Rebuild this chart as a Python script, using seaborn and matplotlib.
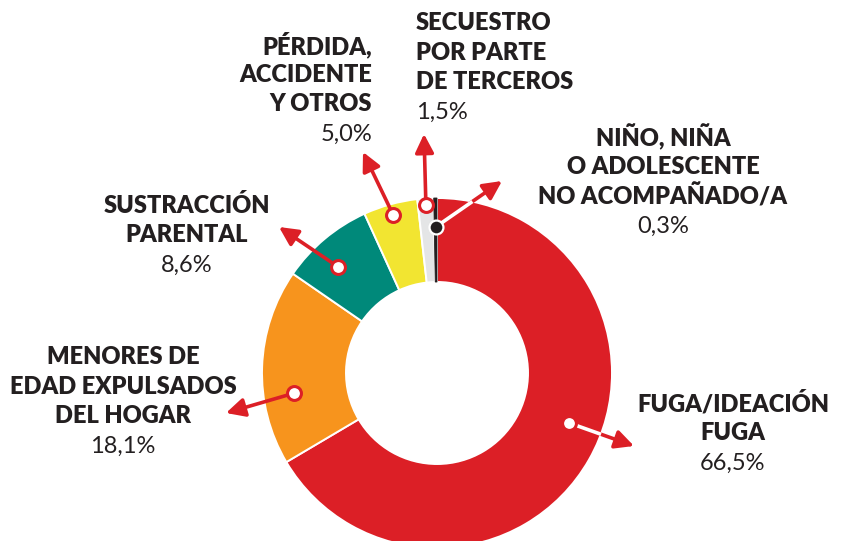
"""
Donut chart: motivos de desaparición
"""

import numpy as np
import matplotlib
matplotlib.use("Agg")
import matplotlib.pyplot as plt
import seaborn as sns

# data
categories = ["FUGA/IDEACIÓN\nFUGA", "MENORES DE\nEDAD EXPULSADOS\nDEL HOGAR",
              "SUSTRACCIÓN\nPARENTAL", "PÉRDIDA,\nACCIDENTE\nY OTROS",
              "SECUESTRO\nPOR PARTE\nDE TERCEROS",
              "NIÑO, NIÑA\nO ADOLESCENTE\nNO ACOMPAÑADO/A"]
values = [66.5, 18.1, 8.6, 5.0, 1.5, 0.3]
pct_labels = ["66,5%", "18,1%", "8,6%", "5,0%", "1,5%", "0,3%"]

colors = ["#DC1F26", "#F7941D", "#00897A", "#F2E531", "#E4E5E6", "#231F20"]
RED = "#DC1F26"
TXT = "#231F20"

# layout (pixels, y measured from top)
W, H = 845, 541
CX, CY = 437, 373
R_OUT, RING = 175, 84
marker_r = [141, 144, 145, 164, 168, 146]
marker_shift = [-9, -10, -3, 0, 0, 0]          # degrees, clockwise
arrow_tip = [(634, 446), (226, 413), (279, 227), (363, 152), (424, 134), (502, 181)]
label_pos = [(733, 403, "center"), (123, 357, "center"), (187, 205, "center"),
             (372, 45, "right"), (416, 23, "left"), (663, 137, "center")]
STEP = 29.5

sns.set_theme(style="white")
plt.rcParams["font.family"] = ["Lato", "DejaVu Sans"]


def P(x, y):
    return x, H - y


fig = plt.figure(figsize=(W / 100, H / 100), dpi=100)
ax = fig.add_axes([0, 0, 1, 1])

wedges, _ = ax.pie(values, colors=colors, startangle=90, counterclock=False,
                   radius=R_OUT, center=P(CX, CY),
                   wedgeprops=dict(width=RING, edgecolor="white", linewidth=1.4))
# the tiny slice would vanish under the white edges
wedges[-1].set_edgecolor(TXT)
wedges[-1].set_linewidth(0.6)

# mid angles (clockwise from top)
cum = np.cumsum([0] + values[:-1])
mid_cw = (cum + np.array(values) / 2) / sum(values) * 360

for i, cat in enumerate(categories):
    th = np.deg2rad(90 - (mid_cw[i] + marker_shift[i]))
    mx = CX + marker_r[i] * np.cos(th)
    my = CY - marker_r[i] * np.sin(th)
    tx, ty = arrow_tip[i]

    ax.annotate("", xy=P(tx, ty), xytext=P(mx, my),
                arrowprops=dict(arrowstyle="-|>", color=RED, lw=2.6,
                                mutation_scale=28, shrinkA=0, shrinkB=0),
                zorder=4)

    # on the red slice the stem is white up to the outer edge
    if colors[i] == RED or colors[i] == "#231F20":
        t = np.linspace(0, 1, 400)
        xs = mx + t * (tx - mx)
        ys = my + t * (ty - my)
        inside = np.hypot(xs - CX, ys - CY) <= R_OUT
        k = np.argmin(inside) if not inside.all() else len(t) - 1
        ax.plot([P(mx, my)[0], P(xs[k], ys[k])[0]],
                [P(mx, my)[1], P(xs[k], ys[k])[1]],
                color="white", lw=2.6, solid_capstyle="butt", zorder=5)

    if colors[i] == "#231F20":
        ax.plot(*P(mx, my), "o", ms=10, mfc=TXT, mec="white", mew=1.6, zorder=6)
    else:
        ax.plot(*P(mx, my), "o", ms=10, mfc="white", mec=RED, mew=2.2, zorder=6)

    lx, ly, ha = label_pos[i]
    lines = cat.split("\n")
    for j, line in enumerate(lines):
        ax.text(*P(lx, ly + j * STEP), line, ha=ha, va="center",
                fontsize=17, fontweight="heavy", color=TXT)
    ax.text(*P(lx, ly + len(lines) * STEP + 1), pct_labels[i], ha=ha, va="center",
            fontsize=17, fontweight="normal", color=TXT)

ax.set_xlim(0, W)
ax.set_ylim(0, H)
ax.set_aspect("equal")
ax.axis("off")

plt.savefig("out.png", dpi=100)
plt.close()
